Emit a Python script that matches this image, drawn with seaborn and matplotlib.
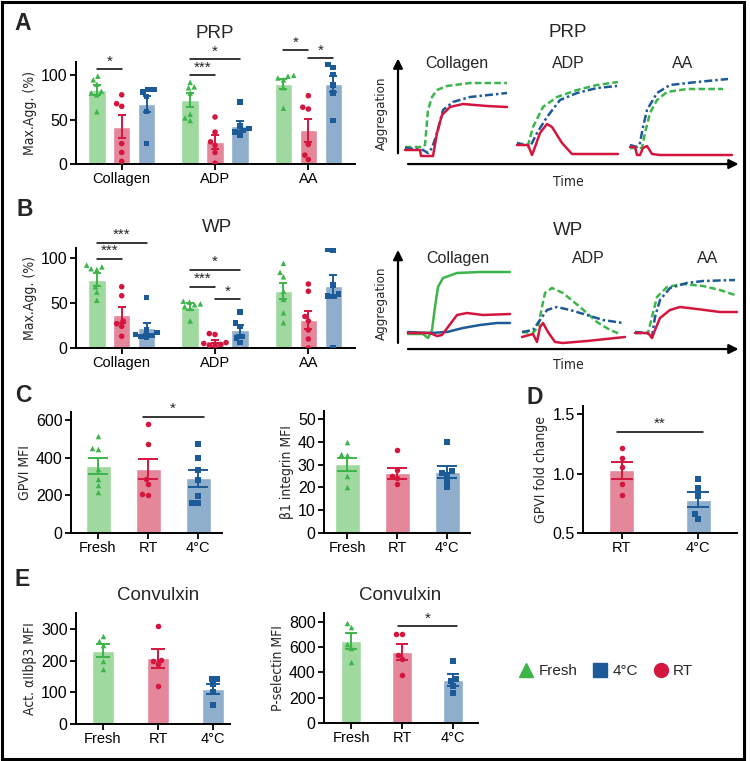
import numpy as np
import pandas as pd
import matplotlib
matplotlib.use("Agg")
import matplotlib.pyplot as plt
import seaborn as sns
from matplotlib.lines import Line2D
from matplotlib.patches import Rectangle
from matplotlib import font_manager as fm

# ---------------- data ----------------
conditions = ["Fresh", "RT", "4°C"]
agonists = ["Collagen", "ADP", "AA"]

# Panel A (PRP) max aggregation, per condition, per agonist
prp_fresh_mean = [83, 72, 90]
prp_fresh_se = [5.7, 8, 6]
prp_rt_mean = [42, 24.6, 38]
prp_rt_se = [13, 7.6, 13]
prp_cold_mean = [68, 43, 90]
prp_cold_se = [9, 6, 9]
prp_fresh_pts = [[99, 95, 90, 82, 80, 78, 59], [92, 87, 86, 80, 56, 52, 49], [100, 99, 97, 95, 86, 63]]
prp_rt_pts = [[78, 68, 65, 23, 13, 3], [53, 36, 25, 21, 13, 1], [77, 64, 62, 22, 10, 5]]
prp_cold_pts = [[84, 84, 81, 76, 59, 23], [70, 43, 40, 38, 36, 33], [112, 109, 101, 89, 80, 49]]

# Panel B (WP)
wp_fresh_mean = [76, 46, 63]
wp_fresh_se = [7, 4, 9]
wp_rt_mean = [37, 7.4, 31.5]
wp_rt_se = [9, 2, 10]
wp_cold_mean = [22, 20, 68.5]
wp_cold_se = [6, 6, 13]
wp_fresh_pts = [[92, 90, 88, 87, 68, 62, 53], [52, 51, 49, 48, 46, 44, 30], [94, 84, 79, 63, 54, 39, 28]]
wp_rt_pts = [[68, 58, 30, 27, 24, 13], [16, 15, 6, 5, 4, 3, 2], [71, 63, 35, 30, 20, 10, 0]]
wp_cold_pts = [[56, 20, 17, 15, 14, 13, 12], [40, 28, 24, 13, 11, 6], [110, 108, 70, 60, 58, 57, 0]]

# Panel C
gpvi_mean = [356, 340, 291]
gpvi_se = [42, 53, 45]
gpvi_fresh = [515, 455, 450, 340, 290, 255, 220]
gpvi_rt = [579, 473, 290, 262, 208, 203]
gpvi_cold = [473, 400, 335, 285, 198, 162, 158]

b1_mean = [30.2, 26.2, 26.8]
b1_se = [2.8, 2.5, 2.8]
b1_fresh = [39.8, 34.7, 34.3, 24.8, 20.1]
b1_rt = [36.5, 27.5, 25, 24, 21.5]
b1_cold = [40, 27, 26.5, 25.5, 23, 20]

# Panel D
d_conditions = ["RT", "4°C"]
fold_mean = [1.027, 0.78]
fold_se = [0.07, 0.065]
fold_rt = [1.214, 1.13, 1.055, 0.91, 0.82]
fold_cold = [0.954, 0.878, 0.814, 0.657, 0.62]

# Panel E
aiib_mean = [231, 208, 111]
aiib_se = [20, 30, 15]
aiib_fresh = [278, 262, 250, 200, 173]
aiib_rt = [310, 203, 200, 189, 120]
aiib_cold = [143, 142, 125, 102, 60]

psel_mean = [648, 562, 339]
psel_se = [60, 60, 45]
psel_fresh = [793, 761, 625, 590, 486]
psel_rt = [704, 704, 540, 505, 378]
psel_cold = [490, 350, 330, 290, 240]

# Representative traces (time, aggregation), arbitrary units
prp_col_fresh_t = [7, 25, 27, 30, 34, 39, 49, 72, 109]
prp_col_fresh_a = [25, 25, 27, 62, 75, 82, 86, 89, 89]
prp_col_cold_t = [7, 25, 30, 34, 39, 45, 55, 72, 109]
prp_col_cold_a = [24, 22, 19, 24, 39, 62, 70, 75, 79]
prp_col_rt_t = [7, 22, 23, 35, 39, 44, 52, 65, 89, 109]
prp_col_rt_a = [22, 22, 16, 16, 39, 57, 65, 68, 66, 65]
prp_adp_fresh_t = [119, 130, 135, 145, 159, 179, 199, 220]
prp_adp_fresh_a = [29, 27, 45, 65, 75, 82, 87, 90]
prp_adp_cold_t = [119, 132, 139, 149, 162, 179, 199, 219]
prp_adp_cold_a = [29, 25, 39, 55, 72, 79, 84, 86]
prp_adp_rt_t = [119, 130, 134, 137, 142, 149, 154, 164, 174, 189, 220]
prp_adp_rt_a = [27, 27, 17, 25, 39, 48, 45, 29, 18, 18, 18]
prp_aa_cold_t = [232, 239, 242, 245, 249, 259, 272, 299, 330]
prp_aa_cold_a = [27, 25, 29, 45, 62, 79, 87, 90, 93]
prp_aa_fresh_t = [232, 244, 247, 252, 259, 269, 289, 325]
prp_aa_fresh_a = [24, 24, 39, 59, 72, 80, 83, 83]
prp_aa_rt_t = [232, 237, 239, 242, 245, 249, 254, 262, 334]
prp_aa_rt_a = [25, 25, 17, 17, 24, 26, 18, 17, 17]

wp_col_fresh_t = [10, 25, 30, 34, 37, 40, 45, 59, 82, 112]
wp_col_fresh_a = [23, 23, 19, 27, 50, 70, 79, 84, 85, 85]
wp_col_cold_t = [10, 32, 49, 65, 82, 99, 112]
wp_col_cold_a = [25, 24, 25, 29, 32, 34, 34]
wp_col_rt_t = [10, 32, 39, 44, 50, 59, 69, 85, 112]
wp_col_rt_a = [24, 24, 21, 22, 30, 42, 44, 42, 43]
wp_adp_fresh_t = [124, 135, 140, 144, 147, 154, 165, 182, 199, 212, 222]
wp_adp_fresh_a = [25, 24, 30, 50, 64, 69, 64, 50, 35, 27, 23]
wp_adp_cold_t = [124, 135, 142, 149, 159, 172, 189, 205, 225]
wp_adp_cold_a = [25, 27, 37, 47, 50, 47, 42, 37, 34]
wp_adp_rt_t = [124, 135, 139, 142, 145, 150, 157, 165, 189, 227]
wp_adp_rt_a = [20, 23, 15, 30, 34, 25, 15, 14, 16, 20]
wp_aa_cold_t = [237, 249, 254, 257, 262, 272, 289, 305, 337]
wp_aa_cold_a = [25, 24, 20, 40, 57, 69, 74, 76, 77]
wp_aa_fresh_t = [237, 250, 254, 259, 269, 285, 305, 322, 337]
wp_aa_fresh_a = [24, 24, 40, 60, 70, 73, 71, 67, 62]
wp_aa_rt_t = [237, 250, 254, 257, 262, 272, 282, 299, 322, 339]
wp_aa_rt_a = [24, 24, 19, 27, 39, 47, 50, 48, 45, 45]

# ---------------- style ----------------
sns.set_theme(style="ticks")
plt.rcParams["font.family"] = ["Liberation Sans", "DejaVu Sans"]

# a condensed face for the axis titles, if one is installed
_cond = [f for f in fm.fontManager.ttflist
         if f.stretch in ("condensed", "semi-condensed", "extra-condensed")
         or "Narrow" in f.name or "Condensed" in f.name]
_cond = [f for f in _cond if f.style == "normal" and f.weight in (400, "normal", "regular")]
if _cond:
    NARROW_PROPS = dict(fontproperties=fm.FontProperties(fname=_cond[0].fname))
else:
    NARROW_PROPS = dict(fontfamily=["Liberation Sans"])

bar_colors = {"Fresh": "#9fd99f", "RT": "#e4879a", "4°C": "#8eaecb"}
dot_colors = {"Fresh": "#3cb54a", "RT": "#d4163f", "4°C": "#1c5b97"}
markers = {"Fresh": "^", "RT": "o", "4°C": "s"}

W, H = 750, 761
fig = plt.figure(figsize=(W / 100, H / 100), dpi=100)
fig.patch.set_facecolor("white")


def px_axes(x0, y0, x1, y1):
    return fig.add_axes([x0 / W, 1 - y1 / H, (x1 - x0) / W, (y1 - y0) / H])


def fig_text(x, y, s, **kw):
    fig.text(x / W, 1 - y / H, s, ha="center", va="center", **kw)


def narrow_text(size):
    kw = dict(NARROW_PROPS)
    if "fontproperties" in kw:
        fp = kw["fontproperties"].copy()
        fp.set_size(size)
        return dict(fontproperties=fp)
    kw["fontsize"] = size
    return kw


def style_axes(ax):
    sns.despine(ax=ax)
    for sp in ("left", "bottom"):
        ax.spines[sp].set_linewidth(1.4)
        ax.spines[sp].set_color("black")
    ax.tick_params(axis="both", width=1.3, length=4, colors="black", pad=2)
    ax.tick_params(axis="x", labelsize=10.5)
    ax.tick_params(axis="y", labelsize=11.5)
    ax.set_xlabel("")


def sig_bar(ax, x1, x2, y, label, ext=0.0):
    ax.plot([x1 - ext, x2 + ext], [y, y], color="black", lw=1.1, clip_on=False, zorder=5)
    ax.annotate(label, xy=((x1 + x2) / 2, y), xytext=(0, 0.5), textcoords="offset points",
                ha="center", va="bottom", fontsize=11, annotation_clip=False)


def grouped_panel(ax, means, ses, pts, ylim, yticks, sigs, ylabel, capsize):
    rows = []
    for ci, cond in enumerate(conditions):
        for ai, ag in enumerate(agonists):
            rows.append((ag, cond, means[ci][ai]))
    df = pd.DataFrame(rows, columns=["agonist", "cond", "value"])
    sns.barplot(data=df, x="agonist", y="value", hue="cond", order=agonists,
                hue_order=conditions, palette=bar_colors, gap=0.3, width=0.8,
                errorbar=None, legend=False, saturation=1, ax=ax, zorder=1)
    bar_conts = list(ax.containers)
    centers = []
    for ci, cont in enumerate(bar_conts):
        c = [b.get_x() + b.get_width() / 2 for b in cont]
        centers.append(c)
        ax.errorbar(c, means[ci], yerr=ses[ci], fmt="none",
                    ecolor=dot_colors[conditions[ci]], elinewidth=1.4,
                    capsize=capsize, capthick=1.4, zorder=4)
    for ci, cond in enumerate(conditions):
        prow = []
        for ai, ag in enumerate(agonists):
            for v in pts[ci][ai]:
                prow.append((ag, cond, v))
        pdf = pd.DataFrame(prow, columns=["agonist", "cond", "value"])
        sns.swarmplot(data=pdf, x="agonist", y="value", hue="cond", order=agonists,
                      hue_order=conditions, palette=dot_colors, dodge=True,
                      marker=markers[cond], size=4, linewidth=0, legend=False,
                      ax=ax, zorder=3)
    for ai, i, j, y, lab in sigs:
        sig_bar(ax, centers[i][ai], centers[j][ai], y, lab)
    ax.set_ylim(*ylim)
    ax.set_yticks(yticks)
    ax.set_xlim(-0.49, 2.5)
    style_axes(ax)
    ax.set_ylabel(ylabel, labelpad=3, **narrow_text(10))


def simple_panel(ax, conds, means, ses, pts, ylim, yticks, width, capsize, ylabel,
                 sigs=(), xlim=None, ext=0.0):
    df = pd.DataFrame({"cond": conds, "value": means})
    sns.barplot(data=df, x="cond", y="value", hue="cond", order=conds, hue_order=conds,
                palette=bar_colors, width=width, errorbar=None, legend=False,
                saturation=1, ax=ax, zorder=1)
    centers = [p.get_x() + p.get_width() / 2 for p in ax.patches]
    for ci, cond in enumerate(conds):
        ax.errorbar([centers[ci]], [means[ci]], yerr=[ses[ci]], fmt="none",
                    ecolor=dot_colors[cond], elinewidth=1.4, capsize=capsize,
                    capthick=1.4, zorder=4)
        sns.swarmplot(x=[cond] * len(pts[ci]), y=pts[ci], order=conds,
                      color=dot_colors[cond], marker=markers[cond], size=4,
                      linewidth=0, ax=ax, zorder=3)
    for i, j, y, lab in sigs:
        sig_bar(ax, centers[i], centers[j], y, lab, ext=ext)
    ax.set_ylim(*ylim)
    ax.set_yticks(yticks)
    if xlim is not None:
        ax.set_xlim(*xlim)
    style_axes(ax)
    ax.set_ylabel(ylabel, labelpad=3, **narrow_text(10))


def trace_panel(ax, curves, titles, title_y, main, main_y, agg_y, time_y, yarrow):
    for t, a, cond, ls in curves:
        sns.lineplot(x=t, y=a, sort=False, estimator=None, color=dot_colors[cond],
                     linestyle=ls, linewidth=1.8, ax=ax)
    ax.set_xlim(0, 344)
    ax.set_ylim(0, 117)
    ax.axis("off")
    ax.annotate("", xy=(0, yarrow[1]), xytext=(0, yarrow[0]), xycoords="axes fraction",
                arrowprops=dict(arrowstyle="-|>", color="black", lw=1.6, mutation_scale=14,
                                shrinkA=0, shrinkB=0))
    ax.annotate("", xy=(0.99, 0.068), xytext=(0.029, 0.068), xycoords="axes fraction",
                arrowprops=dict(arrowstyle="-|>", color="black", lw=1.6, mutation_scale=14,
                                shrinkA=0, shrinkB=0))
    for (x, lab) in titles:
        ax.text(x, title_y, lab, transform=ax.transAxes, ha="center", va="center", fontsize=11.5)
    ax.text(0.494, main_y, main, transform=ax.transAxes, ha="center", va="center", fontsize=13.5)
    ax.text(-0.047, agg_y, "Aggregation", transform=ax.transAxes, ha="center", va="center",
            rotation=90, **narrow_text(9.5))
    ax.text(0.494, time_y, "Time", transform=ax.transAxes, ha="center", va="center",
            **narrow_text(10))


DASH = (0, (2.6, 1.3))
DASHDOT = (0, (3.2, 1.2, 1.0, 1.2))

# ---------------- Panel A ----------------
axA = px_axes(76, 62, 355, 164)
grouped_panel(axA, [prp_fresh_mean, prp_rt_mean, prp_cold_mean],
              [prp_fresh_se, prp_rt_se, prp_cold_se],
              [prp_fresh_pts, prp_rt_pts, prp_cold_pts],
              (0, 115), [0, 50, 100],
              [(0, 0, 1, 107, "*"), (1, 0, 1, 100, "***"), (1, 0, 2, 118, "*"),
               (2, 0, 1, 128, "*"), (2, 1, 2, 119, "*")],
              "Max.Agg. (%)", 3.2)
fig_text(215, 33, "PRP", fontsize=13.5)

axAt = px_axes(398, 55, 742, 172)
trace_panel(axAt,
            [(prp_col_fresh_t, prp_col_fresh_a, "Fresh", DASH),
             (prp_col_cold_t, prp_col_cold_a, "4°C", DASHDOT),
             (prp_col_rt_t, prp_col_rt_a, "RT", "-"),
             (prp_adp_fresh_t, prp_adp_fresh_a, "Fresh", DASH),
             (prp_adp_cold_t, prp_adp_cold_a, "4°C", DASHDOT),
             (prp_adp_rt_t, prp_adp_rt_a, "RT", "-"),
             (prp_aa_fresh_t, prp_aa_fresh_a, "Fresh", DASH),
             (prp_aa_cold_t, prp_aa_cold_a, "4°C", DASHDOT),
             (prp_aa_rt_t, prp_aa_rt_a, "RT", "-")],
            [(0.172, "Collagen"), (0.494, "ADP"), (0.828, "AA")], 0.93,
            "PRP", 1.19, 0.5, -0.085, (0.16, 0.97))

# ---------------- Panel B ----------------
axB = px_axes(76, 248, 355, 348)
grouped_panel(axB, [wp_fresh_mean, wp_rt_mean, wp_cold_mean],
              [wp_fresh_se, wp_rt_se, wp_cold_se],
              [wp_fresh_pts, wp_rt_pts, wp_cold_pts],
              (0, 111), [0, 50, 100],
              [(0, 0, 2, 117, "***"), (0, 0, 1, 99, "***"), (1, 0, 2, 87, "*"),
               (1, 0, 1, 68, "***"), (1, 1, 2, 54, "*")],
              "Max.Agg. (%)", 3.2)
fig_text(217, 227, "WP", fontsize=13.5)

axBt = px_axes(398, 240, 742, 357)
trace_panel(axBt,
            [(wp_col_fresh_t, wp_col_fresh_a, "Fresh", "-"),
             (wp_col_cold_t, wp_col_cold_a, "4°C", "-"),
             (wp_col_rt_t, wp_col_rt_a, "RT", "-"),
             (wp_adp_fresh_t, wp_adp_fresh_a, "Fresh", DASH),
             (wp_adp_cold_t, wp_adp_cold_a, "4°C", DASHDOT),
             (wp_adp_rt_t, wp_adp_rt_a, "RT", "-"),
             (wp_aa_fresh_t, wp_aa_fresh_a, "Fresh", DASH),
             (wp_aa_cold_t, wp_aa_cold_a, "4°C", DASHDOT),
             (wp_aa_rt_t, wp_aa_rt_a, "RT", "-")],
            [(0.174, "Collagen"), (0.552, "ADP"), (0.90, "AA")], 0.846,
            "WP", 1.085, 0.46, -0.068, (0.12, 0.915))

# ---------------- Panel C ----------------
axC1 = px_axes(71, 412, 222, 533)
simple_panel(axC1, conditions, gpvi_mean, gpvi_se, [gpvi_fresh, gpvi_rt, gpvi_cold],
             (0, 645), [0, 200, 400, 600], 0.5, 7.5, "GPVI MFI",
             sigs=[(1, 2, 621, "*")], xlim=(-0.54, 2.48), ext=0.11)
axC2 = px_axes(324, 411, 470, 533)
simple_panel(axC2, conditions, b1_mean, b1_se, [b1_fresh, b1_rt, b1_cold],
             (0, 53.5), [0, 10, 20, 30, 40, 50], 0.5, 7, "β1 integrin MFI",
             xlim=(-0.46, 2.46))

# ---------------- Panel D ----------------
axD = px_axes(583, 406, 737, 533)
simple_panel(axD, d_conditions, fold_mean, fold_se, [fold_rt, fold_cold],
             (0.5, 1.57), [0.5, 1.0, 1.5], 0.33, 7.8, "GPVI fold change",
             sigs=[(0, 1, 1.354, "**")], xlim=(-0.51, 1.51), ext=0.06)

# ---------------- Panel E ----------------
axE1 = px_axes(76, 613, 230, 724)
simple_panel(axE1, conditions, aiib_mean, aiib_se, [aiib_fresh, aiib_rt, aiib_cold],
             (0, 350), [0, 100, 200, 300], 0.4, 4.8, "Act. αIIbβ3 MFI",
             xlim=(-0.49, 2.31))
fig_text(158, 595, "Convulxin", fontsize=13.5)
axE2 = px_axes(324, 613, 478, 723)
simple_panel(axE2, conditions, psel_mean, psel_se, [psel_fresh, psel_rt, psel_cold],
             (0, 870), [0, 200, 400, 600, 800], 0.4, 4.2, "P-selectin MFI",
             sigs=[(1, 2, 764, "*")], xlim=(-0.53, 2.49), ext=0.08)
fig_text(400, 595, "Convulxin", fontsize=13.5)

# ---------------- panel letters ----------------
for x, y, s in [(23, 23, "A"), (25, 210, "B"), (23, 395, "C"), (535, 398, "D"), (22, 580, "E")]:
    fig_text(x, y, s, fontsize=16.5, fontweight="bold")

# ---------------- legend ----------------
handles = [Line2D([], [], marker="^", color=dot_colors["Fresh"], ls="", markersize=10),
           Line2D([], [], marker="s", color=dot_colors["4°C"], ls="", markersize=10),
           Line2D([], [], marker="o", color=dot_colors["RT"], ls="", markersize=10)]
fig.legend(handles, ["Fresh", "4°C", "RT"], loc="center",
           bbox_to_anchor=(606 / W, 1 - 671 / H), ncol=3, frameon=False,
           handletextpad=0.3, columnspacing=1.0, fontsize=11, handlelength=1.0)

# ---------------- border ----------------
fig.patches.append(Rectangle((1.5 / W, 2.5 / H), 742.5 / W, 757 / H, transform=fig.transFigure,
                             fill=False, lw=2.2, ec="black", zorder=10))

fig.savefig("out.png", dpi=100, facecolor="white")
